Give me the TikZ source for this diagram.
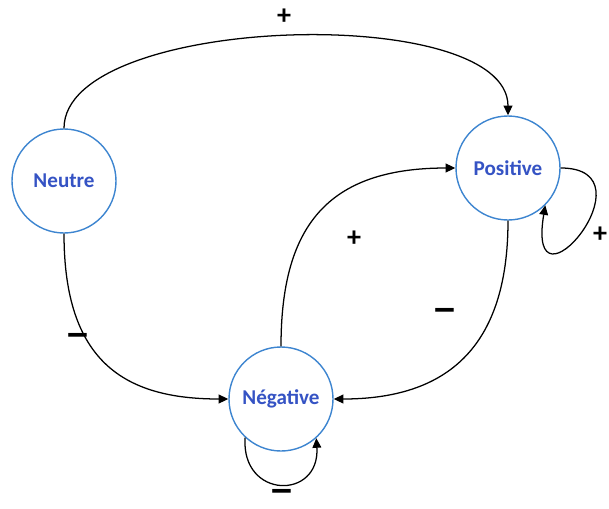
\documentclass[tikz,border=0pt]{standalone}
\usepackage{fontspec}
\setmainfont{Carlito}
\usetikzlibrary{arrows.meta}
\definecolor{ringblue}{HTML}{3D85D0}
\definecolor{textblue}{HTML}{3553C4}

\begin{document}
\begin{tikzpicture}[
    every node/.style={font=\fontsize{15}{18}\selectfont\bfseries},
    state/.style={
      circle, draw=ringblue, line width=1pt, fill=white,
      minimum size=2.6cm, inner sep=0pt, text=textblue
    },
    sign/.style={font=\fontsize{20}{20}\selectfont\bfseries, text=black, inner sep=0pt},
    minus/.style={font=\fontsize{18}{18}\selectfont\bfseries, text=black, inner sep=0pt},
    arrow/.style={-{Triangle[length=2.4mm, width=2.2mm]}, black, line width=0.9pt}
]
  \useasboundingbox (0,0) rectangle (15.225,-12.7);

  \node[state] (neutre) at (1.6,-4.525) {Neutre};
  \node[state] (positive) at (12.7,-4.2) {Positive};
  \node[state] (negative) at (7.025,-9.975) {Négative};

  % transitions
  \draw[arrow] (neutre.north) .. controls +(0,2.85) and +(0,2.85) .. (positive.north);
  \draw[arrow] (neutre.south) .. controls +(0,-3.2) and +(-2.6,0) .. (negative.west);
  \draw[arrow] (negative.north) .. controls +(0,3.0) and +(-3.2,0) .. (positive.west);
  \draw[arrow] (positive.south) .. controls +(0,-3.2) and +(2.8,0) .. (negative.east);

  % self loops
  \draw[arrow] (positive.east) .. controls +(2.4,0) and +(-0.5,-3.0) .. (positive.-45);
  \draw[arrow] (negative.-133) .. controls +(-0.1,-1.55) and +(0.1,-1.55) .. (negative.-48);

  % signs
  \node[sign] (s1) at (7.1,-0.43) {+};
  \node[minus] (s2) at (1.95,-8.52) {\scalebox{1}[1.7]{—}};
  \node[sign] (s3) at (8.85,-5.98) {+};
  \node[minus] (s4) at (11.125,-7.875) {\scalebox{1}[1.7]{—}};
  \node[sign] (s5) at (15.0,-5.875) {+};
  \node[minus] (s6) at (7.05,-12.4) {\scalebox{1}[1.7]{—}};
\end{tikzpicture}
\end{document}
